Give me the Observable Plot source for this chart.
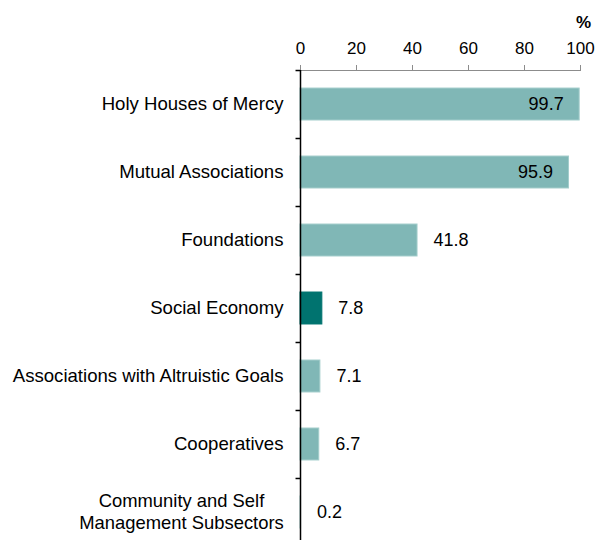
<!DOCTYPE html>
<html>
<head>
<meta charset="utf-8">
<script src="https://cdn.jsdelivr.net/npm/d3@7"></script>
<script src="https://cdn.jsdelivr.net/npm/@observablehq/plot@0.6"></script>
<style>
  body { margin: 0; background: white; }
</style>
</head>
<body>
<div id="chart"></div>
<script>
const categories = [
  "Holy Houses of Mercy",
  "Mutual Associations",
  "Foundations",
  "Social Economy",
  "Associations with Altruistic Goals",
  "Cooperatives",
  "Community and Self\nManagement Subsectors"
];
const values = [99.7, 95.9, 41.8, 7.8, 7.1, 6.7, 0.2];
const highlight = "Social Economy";
const xTicks = [0, 20, 40, 60, 80, 100];
const unitLabel = "%";

const lightColor = "#80b7b6";
const darkColor = "#00736f";

const data = categories.map((c, i) => ({ category: c, value: values[i] }));
const inside = data.filter(d => d.value > 90);
const outside = data.filter(d => d.value <= 90);
const singleLine = categories.filter(c => !c.includes("\n"));
const multiLine = categories.filter(c => c.includes("\n"));

const chart = Plot.plot({
  width: 598,
  height: 540,
  marginLeft: 300,
  marginRight: 18,
  marginTop: 70,
  marginBottom: 0,
  style: { fontFamily: "'Liberation Sans', Arial, sans-serif", fontSize: "16px", color: "black", background: "white", overflow: "visible" },
  x: { domain: [0, 100], axis: null },
  y: { domain: categories, range: [52, 564], padding: 0.53, round: false, axis: null },
  marks: [
    Plot.axisX({ anchor: "top", ticks: xTicks, tickSize: 6, tickPadding: 11, stroke: "#8c8c8c", fill: "black", fontSize: 17, label: null }),
    Plot.frame({ anchor: "top", stroke: "#8c8c8c" }),
    Plot.barX(data, { x: "value", y: "category", fill: d => d.category === highlight ? darkColor : lightColor, stroke: d => d.category === highlight ? darkColor : "#a3cdcb", strokeWidth: 1 }),
    Plot.ruleX([0], { stroke: "black", strokeWidth: 1.5 }),
    Plot.ruleY(categories, { y: d => d, dy: -34, x1: -1.6, x2: 0, stroke: "black", strokeWidth: 1.5 }),
    Plot.text(singleLine, { y: d => d, x: 0, dx: -17, textAnchor: "end", fill: "black", fontSize: 18.6 }),
    Plot.text(multiLine, { y: d => d, x: 0, dx: -119, dy: -2, textAnchor: "middle", fill: "black", fontSize: 18.4, lineHeight: 1.2 }),
    Plot.text(inside, { x: "value", y: "category", text: d => d.value.toFixed(1), dx: -16, textAnchor: "end", fill: "black", fontSize: 18 }),
    Plot.text(outside, { x: "value", y: "category", text: d => d.value.toFixed(1), dx: 16, textAnchor: "start", fill: "black", fontSize: 18 }),
    Plot.text([unitLabel], { frameAnchor: "top-right", lineAnchor: "middle", dx: 3, dy: -48, textAnchor: "middle", fontWeight: "bold", fill: "black", fontSize: 17 })
  ]
});
document.getElementById("chart").appendChild(chart);
</script>
</body>
</html>
